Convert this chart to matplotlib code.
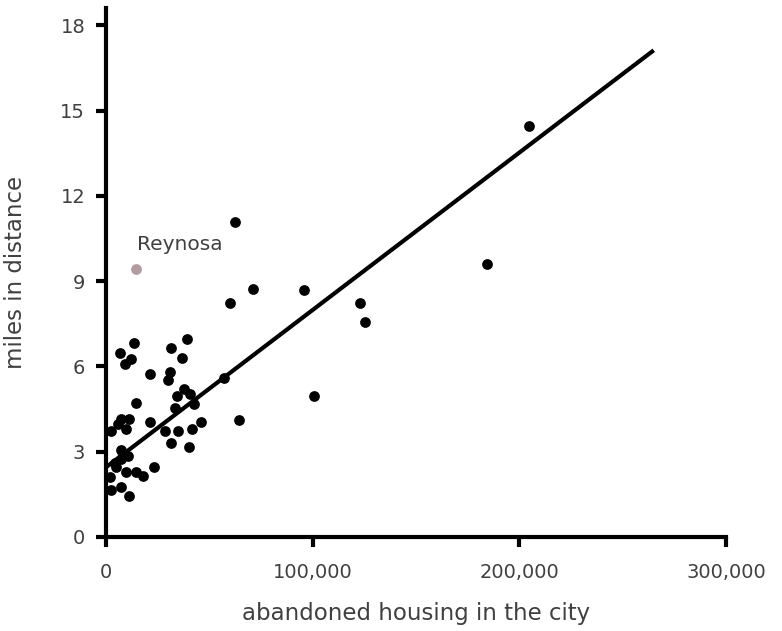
import matplotlib.pyplot as plt
import numpy as np

# abandoned housing (units) vs miles in distance
housing = [62200, 71000, 59800, 95900, 123100, 125500, 184200, 204800,
           57100, 100600, 64300, 45900,
           13600, 6700, 12300, 9100, 39200, 31500, 36700, 21300, 31200,
           30200, 37900, 40600, 34200, 14500, 42700, 33200, 7200, 11300,
           5900, 9900, 21300, 2400, 28600, 35000, 41400, 31500, 40400,
           7200, 10700, 7500, 4300, 23200, 4900, 9900, 14700, 18000,
           1900, 2400, 7200, 11000]
miles = [11.09, 8.74, 8.24, 8.68, 8.24, 7.57, 9.60, 14.45,
         5.58, 4.96, 4.11, 4.05,
         6.81, 6.48, 6.26, 6.08, 6.96, 6.63, 6.31, 5.73, 5.81,
         5.52, 5.21, 5.03, 4.96, 4.70, 4.68, 4.54, 4.15, 4.15,
         3.96, 3.81, 4.04, 3.73, 3.73, 3.72, 3.79, 3.32, 3.18,
         3.06, 2.85, 2.73, 2.61, 2.47, 2.45, 2.30, 2.30, 2.14,
         2.12, 1.65, 1.77, 1.44]

reynosa_x = 14400
reynosa_y = 9.42

# trend line as drawn
fit_x = [0, 265000]
fit_y = [2.45, 17.12]

text_color = '#404040'

fig = plt.figure(figsize=(7.82, 6.31), dpi=100)
ax = fig.add_axes([0.1355, 0.149, 0.793, 0.838])

ax.plot(fit_x, fit_y, color='black', linewidth=3, solid_capstyle='butt', zorder=2)
ax.scatter(housing, miles, s=60, color='black', linewidths=0, zorder=3, clip_on=False)
ax.scatter([reynosa_x], [reynosa_y], s=60, color='#b39c9f', linewidths=0, zorder=3)
ax.annotate('Reynosa', (reynosa_x, reynosa_y), xytext=(1, 11), textcoords='offset points',
            fontsize=14.5, color=text_color, ha='left', va='bottom')

ax.set_xlim(0, 300000)
ax.set_ylim(0, 18.6)
ax.set_xticks([0, 100000, 200000, 300000])
ax.set_xticklabels(['0', '100,000', '200,000', '300,000'])
ax.set_yticks([0, 3, 6, 9, 12, 15, 18])

for side in ['top', 'right']:
    ax.spines[side].set_visible(False)
for side in ['left', 'bottom']:
    ax.spines[side].set_linewidth(3)
ax.spines['left'].set_bounds(0, 18.6)
ax.spines['bottom'].set_bounds(0, 300000)

ax.tick_params(axis='both', length=7, width=3, colors='black', labelcolor=text_color,
               labelsize=14)
ax.tick_params(axis='x', pad=12)
ax.tick_params(axis='y', pad=8)

ax.set_xlabel('abandoned housing in the city', fontsize=16.5, color=text_color, labelpad=14)
ax.set_ylabel('miles in distance', fontsize=16.5, color=text_color, labelpad=24)

fig.savefig('out.png', dpi=100)
